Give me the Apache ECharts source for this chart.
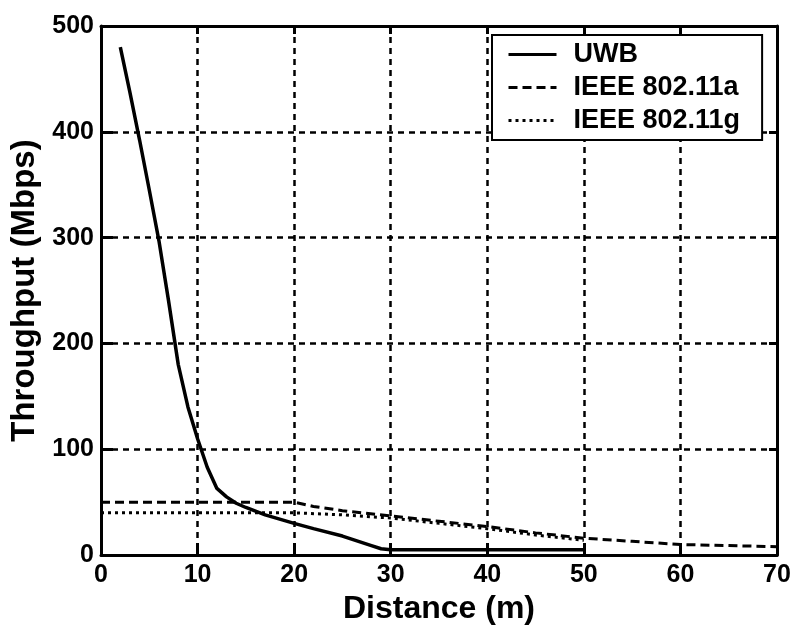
<!DOCTYPE html>
<html>
<head>
<meta charset="utf-8">
<script src="https://cdn.jsdelivr.net/npm/echarts@6/dist/echarts.min.js"></script>
<style>
  html, body { margin: 0; padding: 0; background: #fff; }
  #chart { width: 795px; height: 630px; }
</style>
</head>
<body>
<div id="chart"></div>
<script>
// 距離 (m) / 吞吐量 (Mbps)
const uwbDist = [2, 3, 4, 5, 6, 7, 8, 9, 10, 11, 12, 13, 14, 15, 17, 20, 22, 25, 28, 29, 30, 50];
const uwbThr = [480, 437, 392, 345, 297, 240, 180, 140, 110, 83, 63, 55, 49, 45, 38, 30, 25, 18, 9, 6, 5, 5];

const aDist = [0, 20, 22, 25, 30, 35, 40, 45, 50, 55, 60, 65, 70];
const aThr = [50, 50, 46, 42, 37, 32, 27, 21, 16, 13, 10, 9, 8];

const gDist = [0, 20, 25, 30, 35, 40, 45, 50];
const gThr = [40, 40, 38, 35, 30, 25, 19, 14];

const seriesNames = ["UWB", "IEEE 802.11a", "IEEE 802.11g"];

const font = "Liberation Sans";
const pairs = (xs, ys) => xs.map((x, i) => [x, ys[i]]);

const chart = echarts.init(document.getElementById("chart"));

// 坐標軸共用樣式
const axisLine = { show: true, onZero: false, lineStyle: { color: "#000", width: 3 } };
const axisTick = { show: true, inside: true, length: 12, lineStyle: { color: "#000", width: 3 } };
const splitLine = { show: true, lineStyle: { color: "#000", width: 2.5, type: [6, 5] } };
const label = { color: "#000", fontFamily: font, fontWeight: "bold", fontSize: 25 };

chart.setOption({
  animation: false,
  backgroundColor: "#fff",
  grid: { left: 101, right: 18, top: 26, bottom: 66 },
  legend: {
    data: seriesNames,
    orient: "vertical",
    left: 492,
    top: 35,
    itemWidth: 48,
    itemHeight: 26,
    itemGap: 6,
    padding: [6, 22, 6, 15],
    backgroundColor: "#fff",
    borderColor: "#000",
    borderWidth: 2,
    borderRadius: 0,
    itemStyle: { opacity: 0 }, // 圖例只畫線，不畫圓點
    lineStyle: { width: 3 },
    textStyle: { color: "#000", fontFamily: font, fontWeight: "bold", fontSize: 27, padding: [0, 0, 0, 12] },
  },
  xAxis: [
    {
      type: "value",
      min: 0,
      max: 70,
      interval: 10,
      name: "Distance (m)",
      nameLocation: "middle",
      nameGap: 31,
      nameTextStyle: { color: "#000", fontFamily: font, fontWeight: "bold", fontSize: 32 },
      axisLine: axisLine,
      axisTick: axisTick,
      axisLabel: Object.assign({ margin: 8 }, label),
      splitLine: splitLine,
    },
    {
      type: "value",
      position: "top",
      min: 0,
      max: 70,
      interval: 10,
      axisLine: axisLine,
      axisTick: { show: true, inside: true, length: 8, lineStyle: { color: "#000", width: 3 } },
      axisLabel: { show: false },
      splitLine: { show: false },
    },
  ],
  yAxis: [
    {
      type: "value",
      min: 0,
      max: 500,
      interval: 100,
      name: "Throughput (Mbps)",
      nameLocation: "middle",
      nameGap: 56,
      nameTextStyle: { color: "#000", fontFamily: font, fontWeight: "bold", fontSize: 33 },
      axisLine: axisLine,
      axisTick: axisTick,
      axisLabel: Object.assign({ margin: 7 }, label),
      splitLine: splitLine,
    },
    {
      type: "value",
      position: "right",
      min: 0,
      max: 500,
      interval: 100,
      axisLine: axisLine,
      axisTick: { show: true, inside: true, length: 8, lineStyle: { color: "#000", width: 3 } },
      axisLabel: { show: false },
      splitLine: { show: false },
    },
  ],
  series: [
    {
      name: seriesNames[0],
      type: "line",
      symbol: "none",
      data: pairs(uwbDist, uwbThr),
      lineStyle: { color: "#000", width: 3.5, type: "solid" },
      itemStyle: { color: "#000" },
      z: 5,
    },
    {
      name: seriesNames[1],
      type: "line",
      symbol: "none",
      data: pairs(aDist, aThr),
      lineStyle: { color: "#000", width: 3, type: [9, 5] },
      itemStyle: { color: "#000" },
      z: 4,
    },
    {
      name: seriesNames[2],
      type: "line",
      symbol: "none",
      data: pairs(gDist, gThr),
      lineStyle: { color: "#000", width: 3, type: [3, 4] },
      itemStyle: { color: "#000" },
      z: 4,
    },
  ],
});
</script>
</body>
</html>
